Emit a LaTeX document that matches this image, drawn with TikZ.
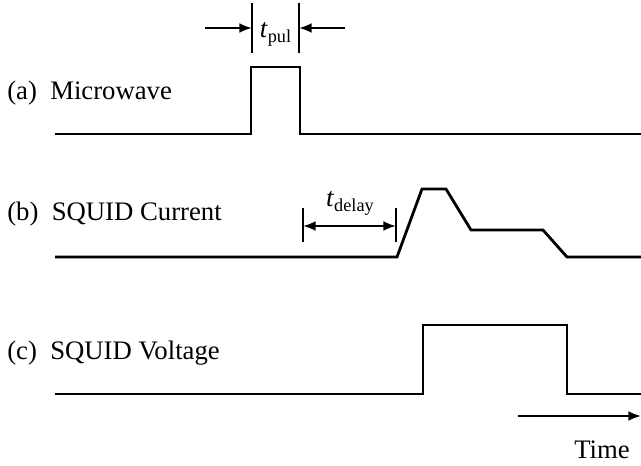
\documentclass[tikz,border=0pt]{standalone}
\usepackage{fontspec}
\setmainfont{Liberation Serif}
\usetikzlibrary{arrows.meta}
\begin{document}
\begin{tikzpicture}[x=0.025cm,y=-0.025cm]
    \tikzstyle{trace}=[line width=2pt]
    \tikzstyle{lbl}=[anchor=base west,inner sep=0pt,font=\fontsize{19}{23}\selectfont]
    \tikzstyle{tick}=[line width=1.5pt]
    \tikzstyle{dim}=[line width=1.5pt,-{Latex[length=9pt,width=7pt]}]
    \tikzstyle{dimboth}=[line width=1.5pt,{Latex[length=9pt,width=7pt]}-{Latex[length=9pt,width=7pt]}]

    \useasboundingbox (0,0) rectangle (641,466);

    \node[lbl] at (7,100) (a) {(a)\enspace Microwave};
    \node[lbl] at (7,221) (b) {(b)\enspace SQUID Current};
    \node[lbl] at (7,360) (c) {(c)\enspace SQUID Voltage};

    \draw[trace] (55,134) -- (251,134) -- (251,67) -- (300,67) -- (300,134) -- (641,134);
    \draw[trace] (55,257) -- (397,257) -- (422,189) -- (446,189) -- (471,230) -- (543,230) -- (567,257) -- (641,257);
    \draw[trace] (55,394) -- (423,394) -- (423,325) -- (567,325) -- (567,394) -- (641,394);

    % pulse width
    \coordinate (p1) at (252,3);
    \coordinate (p1b) at (252,53);
    \coordinate (p2) at (299,3);
    \coordinate (p2b) at (299,53);
    \coordinate (pl) at (205,28);
    \coordinate (pr) at (345,28);
    \draw[tick] (p1) -- (p1b);
    \draw[tick] (p2) -- (p2b);
    \draw[dim] (pl) -- (p1 |- pl);
    \draw[dim] (pr) -- (p2 |- pr);
    \node[lbl,anchor=base] at (275.5,38) (tpul) {\textit{t}\raisebox{-0.35ex}{\fontsize{13}{13}\selectfont pul}};

    % delay
    \coordinate (d1) at (303,208);
    \coordinate (d1b) at (303,242);
    \coordinate (d2) at (396,208);
    \coordinate (d2b) at (396,242);
    \draw[tick] (d1) -- (d1b);
    \draw[tick] (d2) -- (d2b);
    \draw[dimboth] (d1 |- 0,226) -- (d2 |- 0,226);
    \node[lbl,anchor=base] at (350,207) (tdel) {\textit{t}\raisebox{-0.35ex}{\fontsize{13}{13}\selectfont delay}};

    % time axis
    \coordinate (t0) at (518,416);
    \coordinate (t1) at (641,416);
    \draw[dim] (t0) -- (t1);
    \node[lbl] at (574,459) (time) {Time};
\end{tikzpicture}
\end{document}
